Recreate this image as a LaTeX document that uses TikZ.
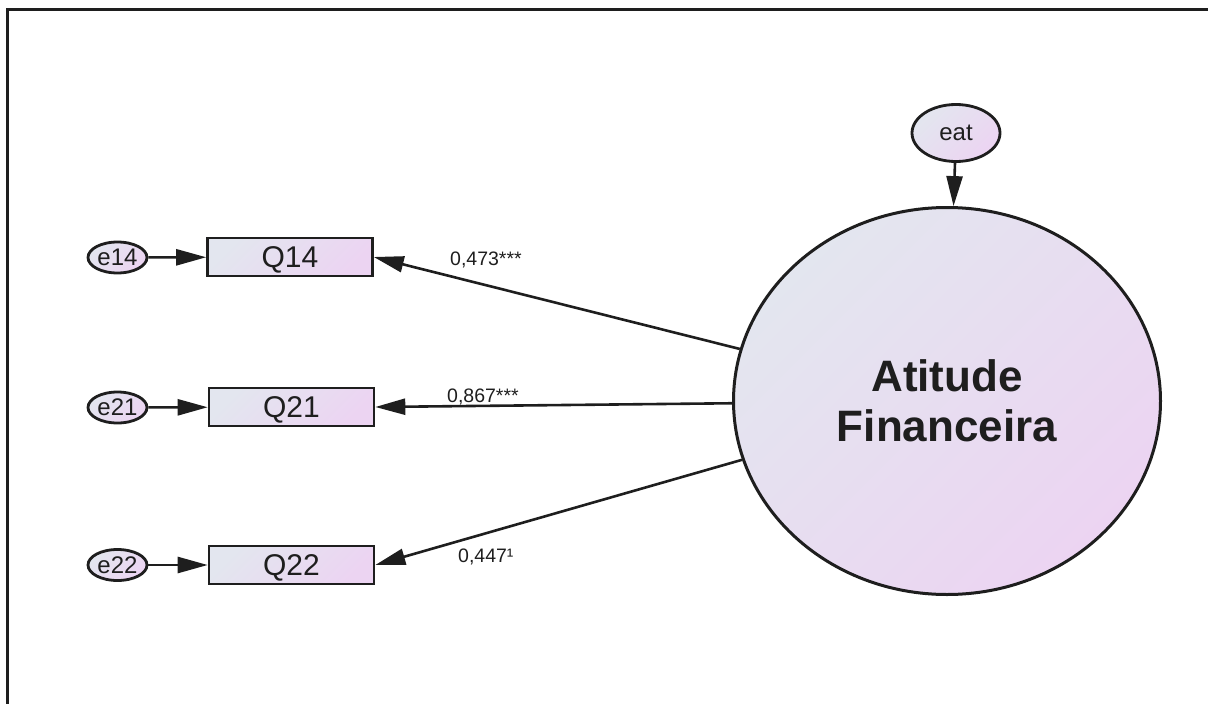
\documentclass[tikz,border=0pt]{standalone}
\usepackage{fontspec}
\setmainfont{Liberation Sans}
\usetikzlibrary{arrows.meta,shapes.geometric}
\definecolor{gradA}{HTML}{E3E6EF}
\definecolor{gradB}{HTML}{ECD4F2}
\definecolor{ink}{HTML}{1E1E1E}
\begin{document}
\begin{tikzpicture}[x=1pt,y=-1pt,
  grad/.style={top color=gradA, bottom color=gradB, shading angle=45},
  obs/.style={draw=ink, line width=2.6pt, grad, rectangle, minimum width=165pt,
    minimum height=38pt, inner sep=0pt, text depth=0pt,
    font=\fontsize{30}{34}\selectfont, text=ink},
  err/.style={draw=ink, line width=2.8pt, grad, ellipse, minimum width=59pt,
    minimum height=31pt, inner sep=0pt, font=\fontsize{24}{26}\selectfont, text=ink},
  path/.style={draw=ink, line width=2.6pt, -{Triangle[length=30pt,width=16pt]}},
  coef/.style={inner sep=0pt, font=\fontsize{19.5}{22}\selectfont, text=ink}]
\useasboundingbox (0,0) rectangle (1208,704);

% frame
\draw[line width=3pt, ink] (7,704) -- (7,9) -- (1208,9);

% latent factor and its disturbance
\node[draw=ink, line width=3pt, grad, ellipse, minimum width=427pt, minimum height=387pt,
  inner sep=0pt, align=center, font=\bfseries\fontsize{44}{50}\selectfont, text=ink]
  (fa) at (947,401) {Atitude\\Financeira};
\node[err, minimum width=88pt, minimum height=57pt] (eat) at (956,133) {eat};

% indicators
\node[obs] (q14) at (290,257) {Q14};
\node[obs] (q21) at (291.5,407) {Q21};
\node[obs] (q22) at (291.5,565) {Q22};

% measurement errors
\node[err] (e14) at (117.5,257.5) {e14};
\node[err] (e21) at (117.5,407.5) {e21};
\node[err] (e22) at (117.5,565) {e22};

% paths
\draw[path] (eat) -- (fa);
\draw[path] (e14) -- (q14);
\draw[path] (e21) -- (q21);
\draw[path] (e22) -- (q22);
\draw[path] (fa) -- (q14.east);
\draw[path] (fa) -- (q21.east);
\draw[path] (fa) -- (q22.east);

% loadings
\node[coef, anchor=base west] (l14) at (450,265) {0,473***};
\node[coef, anchor=base west] (l21) at (447,402) {0,867***};
\node[coef, anchor=base west] (l22) at (458,562) {0,447¹};
\end{tikzpicture}
\end{document}
